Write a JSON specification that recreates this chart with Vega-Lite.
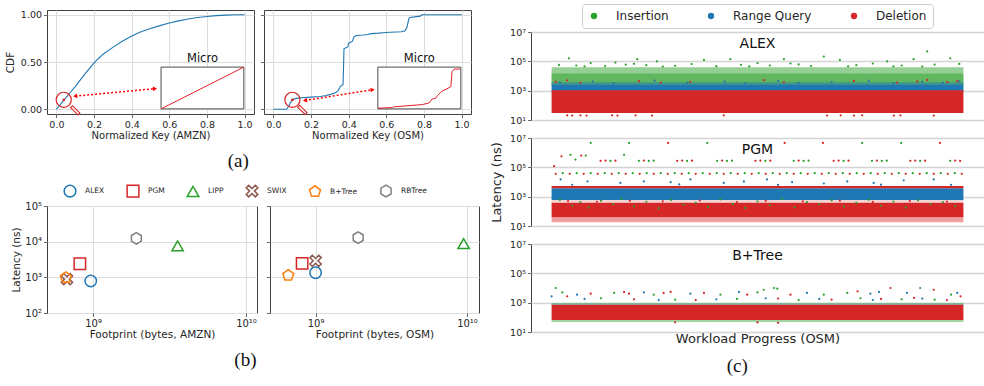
{
"$schema": "https://vega.github.io/schema/vega-lite/v6.json",
"background": "white",
"padding": {"left": 4, "top": 3, "right": 0, "bottom": 0},
"config": {
  "font": "DejaVu Sans",
  "view": {"stroke": "#404040", "strokeWidth": 1},
  "axis": {"domain": false, "tickColor": "#404040", "tickSize": 3.5, "tickWidth": 0.8, "labelColor": "#262626", "titleColor": "#262626", "gridColor": "#dddddd", "gridWidth": 1, "labelFontSize": 9.5, "titleFontSize": 10, "titleFontWeight": "normal", "labelPadding": 2, "titlePadding": 3},
  "legend": {"labelFont": "DejaVu Sans", "labelColor": "#262626", "layout": {"top": {"anchor": "middle"}, "bottom": {"anchor": "middle"}}},
  "title": {"font": "DejaVu Sans", "fontWeight": "normal", "color": "#111111"}
},
"datasets": {
  "amzn": [{"x":0,"y":0},{"x":0.025,"y":0.06},{"x":0.05,"y":0.12},{"x":0.075,"y":0.18},{"x":0.1,"y":0.24},{"x":0.125,"y":0.305},{"x":0.15,"y":0.37},{"x":0.175,"y":0.43},{"x":0.2,"y":0.49},{"x":0.225,"y":0.54},{"x":0.25,"y":0.585},{"x":0.3,"y":0.655},{"x":0.35,"y":0.72},{"x":0.4,"y":0.775},{"x":0.45,"y":0.82},{"x":0.5,"y":0.855},{"x":0.55,"y":0.885},{"x":0.6,"y":0.912},{"x":0.65,"y":0.935},{"x":0.7,"y":0.955},{"x":0.75,"y":0.97},{"x":0.8,"y":0.982},{"x":0.85,"y":0.99},{"x":0.9,"y":0.996},{"x":0.95,"y":0.999},{"x":1.0,"y":1.0}],
  "osm": [{"x":0,"y":0},{"x":0.07,"y":0.0},{"x":0.08,"y":0.03},{"x":0.09,"y":0.07},{"x":0.1,"y":0.1},{"x":0.12,"y":0.115},{"x":0.15,"y":0.122},{"x":0.2,"y":0.128},{"x":0.25,"y":0.135},{"x":0.28,"y":0.145},{"x":0.3,"y":0.155},{"x":0.33,"y":0.175},{"x":0.345,"y":0.2},{"x":0.355,"y":0.24},{"x":0.365,"y":0.255},{"x":0.37,"y":0.26},{"x":0.372,"y":0.4},{"x":0.375,"y":0.64},{"x":0.385,"y":0.65},{"x":0.395,"y":0.66},{"x":0.4,"y":0.7},{"x":0.41,"y":0.71},{"x":0.42,"y":0.72},{"x":0.425,"y":0.75},{"x":0.43,"y":0.77},{"x":0.44,"y":0.78},{"x":0.48,"y":0.785},{"x":0.5,"y":0.79},{"x":0.52,"y":0.8},{"x":0.56,"y":0.805},{"x":0.58,"y":0.81},{"x":0.62,"y":0.815},{"x":0.68,"y":0.82},{"x":0.7,"y":0.83},{"x":0.71,"y":0.87},{"x":0.72,"y":0.96},{"x":0.725,"y":0.97},{"x":0.76,"y":0.98},{"x":0.78,"y":0.985},{"x":0.79,"y":1.0},{"x":1.0,"y":1.0}],
  "microA": [{"x":0.556,"y":0.004},{"x":0.996,"y":0.446}],
  "microO": [{"x":0.555,"y":0.011},{"x":0.633,"y":0.018},{"x":0.637,"y":0.025},{"x":0.793,"y":0.05},{"x":0.828,"y":0.068},{"x":0.842,"y":0.107},{"x":0.863,"y":0.118},{"x":0.872,"y":0.146},{"x":0.89,"y":0.182},{"x":0.899,"y":0.196},{"x":0.917,"y":0.211},{"x":0.943,"y":0.239},{"x":0.949,"y":0.396},{"x":0.961,"y":0.425},{"x":0.991,"y":0.425}],
  "ops": [{"op":"Insertion"},{"op":"Range Query"},{"op":"Deletion"}],
  "foot": [
    {"dataset":"AMZN","index":"ALEX","footprint":966000000,"latency":790},
    {"dataset":"AMZN","index":"PGM","footprint":820000000,"latency":2400},
    {"dataset":"AMZN","index":"LIPP","footprint":3570000000,"latency":7600},
    {"dataset":"AMZN","index":"SWIX","footprint":675000000,"latency":890},
    {"dataset":"AMZN","index":"B+Tree","footprint":664000000,"latency":980},
    {"dataset":"AMZN","index":"RBTree","footprint":1920000000,"latency":12400},
    {"dataset":"OSM","index":"ALEX","footprint":1000000000,"latency":1350},
    {"dataset":"OSM","index":"PGM","footprint":815000000,"latency":2470},
    {"dataset":"OSM","index":"LIPP","footprint":9500000000,"latency":8800},
    {"dataset":"OSM","index":"SWIX","footprint":1000000000,"latency":2900},
    {"dataset":"OSM","index":"B+Tree","footprint":660000000,"latency":1140},
    {"dataset":"OSM","index":"RBTree","footprint":1910000000,"latency":13000}
  ],
  "bands": [
    {"panel":"ALEX","kind":"sparse","op":"Insertion","x0":0,"x1":1,"lo":2200,"hi":40000},
    {"panel":"ALEX","kind":"sparse","op":"Insertion","x0":0,"x1":1,"lo":2200,"hi":15000},
    {"panel":"ALEX","kind":"sparse","op":"Range Query","x0":0,"x1":1,"lo":2400,"hi":3800},
    {"panel":"ALEX","kind":"dense","op":"Range Query","x0":0,"x1":1,"lo":850,"hi":2500},
    {"panel":"ALEX","kind":"dense","op":"Deletion","x0":0,"x1":1,"lo":30,"hi":1050},
    {"panel":"PGM","kind":"sparse","op":"Deletion","x0":0,"x1":1,"lo":18,"hi":40},
    {"panel":"PGM","kind":"faint","op":"Deletion","x0":0,"x1":1,"lo":380,"hi":600},
    {"panel":"PGM","kind":"dense","op":"Deletion","x0":0,"x1":1,"lo":40,"hi":380},
    {"panel":"PGM","kind":"dense","op":"Range Query","x0":0,"x1":1,"lo":600,"hi":3800},
    {"panel":"PGM","kind":"dense","op":"Deletion","x0":0,"x1":1,"lo":3800,"hi":5300},
    {"panel":"B+Tree","kind":"sparse","op":"Insertion","x0":0,"x1":1,"lo":48,"hi":75},
    {"panel":"B+Tree","kind":"faint","op":"Range Query","x0":0,"x1":1,"lo":600,"hi":900},
    {"panel":"B+Tree","kind":"faint","op":"Insertion","x0":0,"x1":1,"lo":700,"hi":1000},
    {"panel":"B+Tree","kind":"dense","op":"Deletion","x0":0,"x1":1,"lo":65,"hi":720}
  ],
  "pts": [
    {"panel":"ALEX","op":"Insertion","p":0.018,"lat":57000},{"panel":"ALEX","op":"Insertion","p":0.042,"lat":160000},{"panel":"ALEX","op":"Insertion","p":0.06,"lat":52000},{"panel":"ALEX","op":"Insertion","p":0.095,"lat":76000},{"panel":"ALEX","op":"Insertion","p":0.13,"lat":48000},{"panel":"ALEX","op":"Insertion","p":0.155,"lat":83000},{"panel":"ALEX","op":"Insertion","p":0.18,"lat":60000},{"panel":"ALEX","op":"Insertion","p":0.208,"lat":140000},{"panel":"ALEX","op":"Insertion","p":0.23,"lat":55000},{"panel":"ALEX","op":"Insertion","p":0.256,"lat":98000},{"panel":"ALEX","op":"Insertion","p":0.3,"lat":50000},{"panel":"ALEX","op":"Insertion","p":0.34,"lat":65000},{"panel":"ALEX","op":"Insertion","p":0.37,"lat":125000},{"panel":"ALEX","op":"Insertion","p":0.4,"lat":47000},{"panel":"ALEX","op":"Insertion","p":0.434,"lat":140000},{"panel":"ALEX","op":"Insertion","p":0.46,"lat":58000},{"panel":"ALEX","op":"Insertion","p":0.5,"lat":76000},{"panel":"ALEX","op":"Insertion","p":0.53,"lat":52000},{"panel":"ALEX","op":"Insertion","p":0.564,"lat":140000},{"panel":"ALEX","op":"Insertion","p":0.6,"lat":62000},{"panel":"ALEX","op":"Insertion","p":0.63,"lat":48000},{"panel":"ALEX","op":"Insertion","p":0.661,"lat":210000},{"panel":"ALEX","op":"Insertion","p":0.7,"lat":125000},{"panel":"ALEX","op":"Insertion","p":0.74,"lat":55000},{"panel":"ALEX","op":"Insertion","p":0.78,"lat":70000},{"panel":"ALEX","op":"Insertion","p":0.815,"lat":98000},{"panel":"ALEX","op":"Insertion","p":0.85,"lat":52000},{"panel":"ALEX","op":"Insertion","p":0.879,"lat":140000},{"panel":"ALEX","op":"Insertion","p":0.912,"lat":470000},{"panel":"ALEX","op":"Insertion","p":0.93,"lat":60000},{"panel":"ALEX","op":"Insertion","p":0.968,"lat":160000},{"panel":"ALEX","op":"Insertion","p":0.99,"lat":66000},{"panel":"ALEX","op":"Insertion","p":0.08,"lat":45000},{"panel":"ALEX","op":"Insertion","p":0.27,"lat":44000},{"panel":"ALEX","op":"Insertion","p":0.48,"lat":45000},{"panel":"ALEX","op":"Insertion","p":0.72,"lat":46000},{"panel":"ALEX","op":"Insertion","p":0.9,"lat":44000},{"panel":"ALEX","op":"Insertion","p":0.2,"lat":68000},{"panel":"ALEX","op":"Insertion","p":0.58,"lat":72000},{"panel":"ALEX","op":"Insertion","p":0.83,"lat":45000},
    {"panel":"ALEX","op":"Range Query","p":0.02,"lat":3600},{"panel":"ALEX","op":"Range Query","p":0.1,"lat":4200},{"panel":"ALEX","op":"Range Query","p":0.15,"lat":3300},{"panel":"ALEX","op":"Range Query","p":0.25,"lat":4800},{"panel":"ALEX","op":"Range Query","p":0.33,"lat":3500},{"panel":"ALEX","op":"Range Query","p":0.42,"lat":4100},{"panel":"ALEX","op":"Range Query","p":0.47,"lat":3200},{"panel":"ALEX","op":"Range Query","p":0.55,"lat":4500},{"panel":"ALEX","op":"Range Query","p":0.6,"lat":3400},{"panel":"ALEX","op":"Range Query","p":0.68,"lat":3900},{"panel":"ALEX","op":"Range Query","p":0.77,"lat":4600},{"panel":"ALEX","op":"Range Query","p":0.83,"lat":3300},{"panel":"ALEX","op":"Range Query","p":0.9,"lat":4000},{"panel":"ALEX","op":"Range Query","p":0.95,"lat":3500},{"panel":"ALEX","op":"Range Query","p":0.99,"lat":4300},
    {"panel":"ALEX","op":"Deletion","p":0.01,"lat":4000},{"panel":"ALEX","op":"Deletion","p":0.038,"lat":5000},{"panel":"ALEX","op":"Deletion","p":0.07,"lat":3600},{"panel":"ALEX","op":"Deletion","p":0.212,"lat":4400},{"panel":"ALEX","op":"Deletion","p":0.265,"lat":3500},{"panel":"ALEX","op":"Deletion","p":0.337,"lat":4000},{"panel":"ALEX","op":"Deletion","p":0.515,"lat":5200},{"panel":"ALEX","op":"Deletion","p":0.564,"lat":3700},{"panel":"ALEX","op":"Deletion","p":0.734,"lat":4600},{"panel":"ALEX","op":"Deletion","p":0.839,"lat":3500},{"panel":"ALEX","op":"Deletion","p":0.888,"lat":4200},{"panel":"ALEX","op":"Deletion","p":0.912,"lat":5400},{"panel":"ALEX","op":"Deletion","p":0.961,"lat":3800},{"panel":"ALEX","op":"Deletion","p":0.985,"lat":4500},
    {"panel":"ALEX","op":"Deletion","p":0.038,"lat":21},{"panel":"ALEX","op":"Deletion","p":0.05,"lat":20},{"panel":"ALEX","op":"Deletion","p":0.07,"lat":21},{"panel":"ALEX","op":"Deletion","p":0.085,"lat":20},{"panel":"ALEX","op":"Deletion","p":0.147,"lat":21},{"panel":"ALEX","op":"Deletion","p":0.16,"lat":20},{"panel":"ALEX","op":"Deletion","p":0.204,"lat":21},{"panel":"ALEX","op":"Deletion","p":0.244,"lat":20},{"panel":"ALEX","op":"Deletion","p":0.418,"lat":21},{"panel":"ALEX","op":"Deletion","p":0.669,"lat":20},{"panel":"ALEX","op":"Deletion","p":0.702,"lat":21},{"panel":"ALEX","op":"Deletion","p":0.734,"lat":20},{"panel":"ALEX","op":"Deletion","p":0.754,"lat":21},{"panel":"ALEX","op":"Deletion","p":0.831,"lat":20},{"panel":"ALEX","op":"Deletion","p":0.847,"lat":21},{"panel":"ALEX","op":"Deletion","p":0.928,"lat":20},

    {"panel":"PGM","op":"Insertion","p":0.095,"lat":4600000},{"panel":"PGM","op":"Insertion","p":0.188,"lat":4600000},{"panel":"PGM","op":"Deletion","p":0.283,"lat":4600000},{"panel":"PGM","op":"Insertion","p":0.378,"lat":4600000},{"panel":"PGM","op":"Deletion","p":0.566,"lat":4600000},{"panel":"PGM","op":"Deletion","p":0.659,"lat":4600000},{"panel":"PGM","op":"Insertion","p":0.754,"lat":4600000},{"panel":"PGM","op":"Insertion","p":0.849,"lat":4600000},{"panel":"PGM","op":"Deletion","p":0.943,"lat":4600000},
    {"panel":"PGM","op":"Deletion","p":0.006,"lat":120000},{"panel":"PGM","op":"Deletion","p":0.024,"lat":560000},{"panel":"PGM","op":"Insertion","p":0.046,"lat":720000},{"panel":"PGM","op":"Insertion","p":0.058,"lat":340000},{"panel":"PGM","op":"Deletion","p":0.072,"lat":630000},{"panel":"PGM","op":"Insertion","p":0.083,"lat":630000},{"panel":"PGM","op":"Insertion","p":0.176,"lat":720000},
    {"panel":"PGM","op":"Deletion","p":0.119,"lat":280000},{"panel":"PGM","op":"Deletion","p":0.131,"lat":290000},{"panel":"PGM","op":"Insertion","p":0.143,"lat":275000},{"panel":"PGM","op":"Deletion","p":0.155,"lat":285000},
    {"panel":"PGM","op":"Insertion","p":0.212,"lat":280000},{"panel":"PGM","op":"Deletion","p":0.224,"lat":290000},{"panel":"PGM","op":"Insertion","p":0.236,"lat":275000},{"panel":"PGM","op":"Insertion","p":0.248,"lat":285000},
    {"panel":"PGM","op":"Deletion","p":0.305,"lat":280000},{"panel":"PGM","op":"Deletion","p":0.317,"lat":290000},{"panel":"PGM","op":"Insertion","p":0.329,"lat":275000},{"panel":"PGM","op":"Deletion","p":0.341,"lat":285000},
    {"panel":"PGM","op":"Insertion","p":0.402,"lat":280000},{"panel":"PGM","op":"Deletion","p":0.414,"lat":290000},{"panel":"PGM","op":"Insertion","p":0.426,"lat":275000},{"panel":"PGM","op":"Insertion","p":0.438,"lat":285000},
    {"panel":"PGM","op":"Deletion","p":0.495,"lat":280000},{"panel":"PGM","op":"Deletion","p":0.507,"lat":290000},{"panel":"PGM","op":"Insertion","p":0.519,"lat":275000},{"panel":"PGM","op":"Deletion","p":0.531,"lat":285000},
    {"panel":"PGM","op":"Insertion","p":0.588,"lat":280000},{"panel":"PGM","op":"Deletion","p":0.6,"lat":290000},{"panel":"PGM","op":"Insertion","p":0.612,"lat":275000},{"panel":"PGM","op":"Insertion","p":0.624,"lat":285000},
    {"panel":"PGM","op":"Deletion","p":0.685,"lat":280000},{"panel":"PGM","op":"Deletion","p":0.697,"lat":290000},{"panel":"PGM","op":"Insertion","p":0.709,"lat":275000},{"panel":"PGM","op":"Deletion","p":0.721,"lat":285000},
    {"panel":"PGM","op":"Insertion","p":0.778,"lat":280000},{"panel":"PGM","op":"Deletion","p":0.79,"lat":290000},{"panel":"PGM","op":"Insertion","p":0.802,"lat":275000},{"panel":"PGM","op":"Insertion","p":0.814,"lat":285000},
    {"panel":"PGM","op":"Deletion","p":0.871,"lat":280000},{"panel":"PGM","op":"Deletion","p":0.883,"lat":290000},{"panel":"PGM","op":"Insertion","p":0.895,"lat":275000},{"panel":"PGM","op":"Deletion","p":0.907,"lat":285000},
    {"panel":"PGM","op":"Insertion","p":0.968,"lat":280000},{"panel":"PGM","op":"Deletion","p":0.98,"lat":290000},{"panel":"PGM","op":"Deletion","p":0.992,"lat":275000},
    {"panel":"PGM","op":"Deletion","p":0.010,"lat":36000},{"panel":"PGM","op":"Insertion","p":0.027,"lat":40000},{"panel":"PGM","op":"Deletion","p":0.044,"lat":36000},{"panel":"PGM","op":"Insertion","p":0.061,"lat":40000},{"panel":"PGM","op":"Deletion","p":0.078,"lat":36000},{"panel":"PGM","op":"Insertion","p":0.095,"lat":40000},{"panel":"PGM","op":"Deletion","p":0.112,"lat":36000},{"panel":"PGM","op":"Insertion","p":0.129,"lat":40000},{"panel":"PGM","op":"Deletion","p":0.146,"lat":36000},{"panel":"PGM","op":"Insertion","p":0.163,"lat":40000},{"panel":"PGM","op":"Deletion","p":0.180,"lat":36000},{"panel":"PGM","op":"Insertion","p":0.197,"lat":40000},{"panel":"PGM","op":"Deletion","p":0.214,"lat":36000},{"panel":"PGM","op":"Insertion","p":0.231,"lat":40000},{"panel":"PGM","op":"Deletion","p":0.248,"lat":36000},{"panel":"PGM","op":"Insertion","p":0.265,"lat":40000},{"panel":"PGM","op":"Deletion","p":0.282,"lat":36000},{"panel":"PGM","op":"Insertion","p":0.299,"lat":40000},{"panel":"PGM","op":"Deletion","p":0.316,"lat":36000},{"panel":"PGM","op":"Insertion","p":0.333,"lat":40000},{"panel":"PGM","op":"Deletion","p":0.350,"lat":36000},{"panel":"PGM","op":"Insertion","p":0.367,"lat":40000},{"panel":"PGM","op":"Deletion","p":0.384,"lat":36000},{"panel":"PGM","op":"Insertion","p":0.401,"lat":40000},{"panel":"PGM","op":"Deletion","p":0.418,"lat":36000},{"panel":"PGM","op":"Insertion","p":0.435,"lat":40000},{"panel":"PGM","op":"Deletion","p":0.452,"lat":36000},{"panel":"PGM","op":"Insertion","p":0.469,"lat":40000},{"panel":"PGM","op":"Deletion","p":0.486,"lat":36000},{"panel":"PGM","op":"Insertion","p":0.503,"lat":40000},{"panel":"PGM","op":"Deletion","p":0.520,"lat":36000},{"panel":"PGM","op":"Insertion","p":0.537,"lat":40000},{"panel":"PGM","op":"Deletion","p":0.554,"lat":36000},{"panel":"PGM","op":"Insertion","p":0.571,"lat":40000},{"panel":"PGM","op":"Deletion","p":0.588,"lat":36000},{"panel":"PGM","op":"Insertion","p":0.605,"lat":40000},{"panel":"PGM","op":"Deletion","p":0.622,"lat":36000},{"panel":"PGM","op":"Insertion","p":0.639,"lat":40000},{"panel":"PGM","op":"Deletion","p":0.656,"lat":36000},{"panel":"PGM","op":"Insertion","p":0.673,"lat":40000},{"panel":"PGM","op":"Deletion","p":0.690,"lat":36000},{"panel":"PGM","op":"Insertion","p":0.707,"lat":40000},{"panel":"PGM","op":"Deletion","p":0.724,"lat":36000},{"panel":"PGM","op":"Insertion","p":0.741,"lat":40000},{"panel":"PGM","op":"Deletion","p":0.758,"lat":36000},{"panel":"PGM","op":"Insertion","p":0.775,"lat":40000},{"panel":"PGM","op":"Deletion","p":0.792,"lat":36000},{"panel":"PGM","op":"Insertion","p":0.809,"lat":40000},{"panel":"PGM","op":"Deletion","p":0.826,"lat":36000},{"panel":"PGM","op":"Insertion","p":0.843,"lat":40000},{"panel":"PGM","op":"Deletion","p":0.860,"lat":36000},{"panel":"PGM","op":"Insertion","p":0.877,"lat":40000},{"panel":"PGM","op":"Deletion","p":0.894,"lat":36000},{"panel":"PGM","op":"Insertion","p":0.911,"lat":40000},{"panel":"PGM","op":"Deletion","p":0.928,"lat":36000},{"panel":"PGM","op":"Insertion","p":0.945,"lat":40000},{"panel":"PGM","op":"Deletion","p":0.962,"lat":36000},{"panel":"PGM","op":"Insertion","p":0.979,"lat":40000},{"panel":"PGM","op":"Deletion","p":0.996,"lat":36000},
    {"panel":"PGM","op":"Range Query","p":0.022,"lat":15000},{"panel":"PGM","op":"Range Query","p":0.087,"lat":11000},{"panel":"PGM","op":"Range Query","p":0.167,"lat":8700},{"panel":"PGM","op":"Range Query","p":0.224,"lat":11000},{"panel":"PGM","op":"Range Query","p":0.289,"lat":9800},{"panel":"PGM","op":"Range Query","p":0.337,"lat":15000},{"panel":"PGM","op":"Range Query","p":0.418,"lat":8700},{"panel":"PGM","op":"Range Query","p":0.467,"lat":11000},{"panel":"PGM","op":"Range Query","p":0.523,"lat":15000},{"panel":"PGM","op":"Range Query","p":0.584,"lat":9800},{"panel":"PGM","op":"Range Query","p":0.661,"lat":7900},{"panel":"PGM","op":"Range Query","p":0.718,"lat":11000},{"panel":"PGM","op":"Range Query","p":0.782,"lat":8700},{"panel":"PGM","op":"Range Query","p":0.855,"lat":13000},{"panel":"PGM","op":"Range Query","p":0.928,"lat":15000},{"panel":"PGM","op":"Range Query","p":0.05,"lat":6500},{"panel":"PGM","op":"Range Query","p":0.31,"lat":6800},{"panel":"PGM","op":"Range Query","p":0.55,"lat":6300},{"panel":"PGM","op":"Range Query","p":0.8,"lat":6600},{"panel":"PGM","op":"Range Query","p":0.97,"lat":6400},
    {"panel":"PGM","op":"Insertion","p":0.02,"lat":600},{"panel":"PGM","op":"Insertion","p":0.05,"lat":250},{"panel":"PGM","op":"Insertion","p":0.07,"lat":420},{"panel":"PGM","op":"Insertion","p":0.09,"lat":180},{"panel":"PGM","op":"Insertion","p":0.12,"lat":520},{"panel":"PGM","op":"Insertion","p":0.15,"lat":300},{"panel":"PGM","op":"Insertion","p":0.17,"lat":700},{"panel":"PGM","op":"Insertion","p":0.2,"lat":220},{"panel":"PGM","op":"Insertion","p":0.23,"lat":450},{"panel":"PGM","op":"Insertion","p":0.26,"lat":160},{"panel":"PGM","op":"Insertion","p":0.29,"lat":600},{"panel":"PGM","op":"Insertion","p":0.32,"lat":280},{"panel":"PGM","op":"Insertion","p":0.35,"lat":380},{"panel":"PGM","op":"Insertion","p":0.38,"lat":200},{"panel":"PGM","op":"Insertion","p":0.41,"lat":650},{"panel":"PGM","op":"Insertion","p":0.44,"lat":320},{"panel":"PGM","op":"Insertion","p":0.47,"lat":170},{"panel":"PGM","op":"Insertion","p":0.5,"lat":480},{"panel":"PGM","op":"Insertion","p":0.53,"lat":260},{"panel":"PGM","op":"Insertion","p":0.56,"lat":700},{"panel":"PGM","op":"Insertion","p":0.59,"lat":190},{"panel":"PGM","op":"Insertion","p":0.62,"lat":420},{"panel":"PGM","op":"Insertion","p":0.65,"lat":300},{"panel":"PGM","op":"Insertion","p":0.68,"lat":550},{"panel":"PGM","op":"Insertion","p":0.71,"lat":210},{"panel":"PGM","op":"Insertion","p":0.74,"lat":380},{"panel":"PGM","op":"Insertion","p":0.77,"lat":620},{"panel":"PGM","op":"Insertion","p":0.8,"lat":240},{"panel":"PGM","op":"Insertion","p":0.83,"lat":460},{"panel":"PGM","op":"Insertion","p":0.86,"lat":180},{"panel":"PGM","op":"Insertion","p":0.89,"lat":560},{"panel":"PGM","op":"Insertion","p":0.92,"lat":300},{"panel":"PGM","op":"Insertion","p":0.95,"lat":420},{"panel":"PGM","op":"Insertion","p":0.98,"lat":230},
    {"panel":"PGM","op":"Deletion","p":0.04,"lat":500},{"panel":"PGM","op":"Deletion","p":0.11,"lat":450},{"panel":"PGM","op":"Deletion","p":0.19,"lat":520},{"panel":"PGM","op":"Deletion","p":0.27,"lat":480},{"panel":"PGM","op":"Deletion","p":0.36,"lat":540},{"panel":"PGM","op":"Deletion","p":0.45,"lat":430},{"panel":"PGM","op":"Deletion","p":0.52,"lat":510},{"panel":"PGM","op":"Deletion","p":0.61,"lat":470},{"panel":"PGM","op":"Deletion","p":0.7,"lat":530},{"panel":"PGM","op":"Deletion","p":0.78,"lat":440},{"panel":"PGM","op":"Deletion","p":0.87,"lat":500},{"panel":"PGM","op":"Deletion","p":0.96,"lat":460},

    {"panel":"B+Tree","op":"Insertion","p":0.01,"lat":10000},{"panel":"B+Tree","op":"Insertion","p":0.026,"lat":5000},{"panel":"B+Tree","op":"Insertion","p":0.152,"lat":4600},{"panel":"B+Tree","op":"Insertion","p":0.248,"lat":3500},{"panel":"B+Tree","op":"Insertion","p":0.41,"lat":3500},{"panel":"B+Tree","op":"Insertion","p":0.5,"lat":5000},{"panel":"B+Tree","op":"Insertion","p":0.515,"lat":7600},{"panel":"B+Tree","op":"Insertion","p":0.54,"lat":10000},{"panel":"B+Tree","op":"Insertion","p":0.548,"lat":9000},{"panel":"B+Tree","op":"Insertion","p":0.661,"lat":3500},{"panel":"B+Tree","op":"Insertion","p":0.718,"lat":4600},{"panel":"B+Tree","op":"Insertion","p":0.895,"lat":10000},{"panel":"B+Tree","op":"Insertion","p":0.97,"lat":3500},{"panel":"B+Tree","op":"Insertion","p":0.12,"lat":2000},{"panel":"B+Tree","op":"Insertion","p":0.3,"lat":1600},{"panel":"B+Tree","op":"Insertion","p":0.45,"lat":1800},{"panel":"B+Tree","op":"Insertion","p":0.6,"lat":1500},{"panel":"B+Tree","op":"Insertion","p":0.75,"lat":2000},{"panel":"B+Tree","op":"Insertion","p":0.85,"lat":1700},{"panel":"B+Tree","op":"Insertion","p":0.93,"lat":1600},
    {"panel":"B+Tree","op":"Deletion","p":0.038,"lat":2700},{"panel":"B+Tree","op":"Deletion","p":0.095,"lat":4100},{"panel":"B+Tree","op":"Deletion","p":0.176,"lat":5400},{"panel":"B+Tree","op":"Deletion","p":0.188,"lat":4100},{"panel":"B+Tree","op":"Deletion","p":0.272,"lat":4600},{"panel":"B+Tree","op":"Deletion","p":0.289,"lat":5400},{"panel":"B+Tree","op":"Deletion","p":0.37,"lat":4600},{"panel":"B+Tree","op":"Deletion","p":0.475,"lat":3500},{"panel":"B+Tree","op":"Deletion","p":0.58,"lat":3500},{"panel":"B+Tree","op":"Deletion","p":0.743,"lat":5900},{"panel":"B+Tree","op":"Deletion","p":0.823,"lat":10000},{"panel":"B+Tree","op":"Deletion","p":0.928,"lat":7600},{"panel":"B+Tree","op":"Deletion","p":0.993,"lat":2700},{"panel":"B+Tree","op":"Deletion","p":0.2,"lat":1700},{"panel":"B+Tree","op":"Deletion","p":0.35,"lat":1500},{"panel":"B+Tree","op":"Deletion","p":0.55,"lat":1900},{"panel":"B+Tree","op":"Deletion","p":0.68,"lat":1600},{"panel":"B+Tree","op":"Deletion","p":0.8,"lat":1800},{"panel":"B+Tree","op":"Deletion","p":0.88,"lat":2100},{"panel":"B+Tree","op":"Deletion","p":0.96,"lat":1500},{"panel":"B+Tree","op":"Deletion","p":0.5,"lat":45},{"panel":"B+Tree","op":"Deletion","p":0.55,"lat":42},{"panel":"B+Tree","op":"Deletion","p":0.3,"lat":46},
    {"panel":"B+Tree","op":"Range Query","p":0.0,"lat":2700},{"panel":"B+Tree","op":"Range Query","p":0.062,"lat":3500},{"panel":"B+Tree","op":"Range Query","p":0.224,"lat":5000},{"panel":"B+Tree","op":"Range Query","p":0.337,"lat":4100},{"panel":"B+Tree","op":"Range Query","p":0.455,"lat":5400},{"panel":"B+Tree","op":"Range Query","p":0.62,"lat":4600},{"panel":"B+Tree","op":"Range Query","p":0.774,"lat":4100},{"panel":"B+Tree","op":"Range Query","p":0.795,"lat":5400},{"panel":"B+Tree","op":"Range Query","p":0.863,"lat":4600},{"panel":"B+Tree","op":"Range Query","p":0.985,"lat":4600},{"panel":"B+Tree","op":"Range Query","p":0.08,"lat":1800},{"panel":"B+Tree","op":"Range Query","p":0.26,"lat":1500},{"panel":"B+Tree","op":"Range Query","p":0.4,"lat":1700},{"panel":"B+Tree","op":"Range Query","p":0.52,"lat":2000},{"panel":"B+Tree","op":"Range Query","p":0.65,"lat":1800},{"panel":"B+Tree","op":"Range Query","p":0.78,"lat":1500},{"panel":"B+Tree","op":"Range Query","p":0.9,"lat":1900}
  ]
},
"resolve": {"scale": {"color": "independent", "shape": "independent"}, "legend": {"color": "independent", "shape": "independent"}},
"columns": 2,
"align": "none",
"spacing": 10,
"concat": [
  {
    "spacing": 13,
    "resolve": {"scale": {"color": "independent", "shape": "independent"}, "legend": {"color": "independent", "shape": "independent"}},
    "vconcat": [
      {
        "title": {"text": "(a)", "orient": "bottom", "anchor": "middle", "font": "Liberation Serif", "fontSize": 19, "fontWeight": "normal", "offset": 11},
        "spacing": 4,
        "hconcat": [
          {
            "width": 207, "height": 104,
            "layer": [
              {"data": {"name": "amzn"}, "mark": {"type": "line", "color": "#1f77b4", "strokeWidth": 1.1},
               "encoding": {
                 "x": {"field": "x", "type": "quantitative", "scale": {"domain": [-0.05, 1.05], "nice": false, "zero": false}, "axis": {"values": [0, 0.2, 0.4, 0.6, 0.8, 1.0], "format": ".1f", "title": "Normalized Key (AMZN)", "titlePadding": 1, "grid": true}},
                 "y": {"field": "y", "type": "quantitative", "scale": {"domain": [-0.05, 1.05], "nice": false, "zero": false}, "axis": {"values": [0, 0.25, 0.5, 0.75, 1.0], "format": ".2f", "title": "CDF", "titleFontSize": 10.5, "titlePadding": 5, "grid": true}}}},
              {"data": {"values": [{}]}, "mark": {"type": "rect", "fill": "white", "stroke": "#4a4a4a", "strokeWidth": 1},
               "encoding": {"x": {"datum": 0.556, "type": "quantitative"}, "x2": {"datum": 0.996}, "y": {"datum": 0.004, "type": "quantitative"}, "y2": {"datum": 0.446}}},
              {"data": {"name": "microA"}, "mark": {"type": "line", "color": "#e0202a", "strokeWidth": 1},
               "encoding": {"x": {"field": "x", "type": "quantitative"}, "y": {"field": "y", "type": "quantitative"}}},
              {"data": {"values": [{}]}, "mark": {"type": "text", "fontSize": 11.5, "color": "#111111", "baseline": "middle"},
               "encoding": {"x": {"datum": 0.776, "type": "quantitative"}, "y": {"datum": 0.53, "type": "quantitative"}, "text": {"value": "Micro"}}},
              {"data": {"values": [{}]}, "mark": {"type": "rule", "color": "red", "strokeWidth": 1.5, "strokeDash": [2, 2]},
               "encoding": {"x": {"datum": 0.1, "type": "quantitative"}, "y": {"datum": 0.139, "type": "quantitative"}, "x2": {"datum": 0.524}, "y2": {"datum": 0.218}}},
              {"data": {"values": [{}]}, "mark": {"type": "point", "shape": "triangle-left", "filled": true, "color": "red", "size": 22, "angle": -5, "opacity": 1},
               "encoding": {"x": {"datum": 0.1, "type": "quantitative"}, "y": {"datum": 0.139, "type": "quantitative"}}},
              {"data": {"values": [{}]}, "mark": {"type": "point", "shape": "triangle-right", "filled": true, "color": "red", "size": 22, "angle": -5, "opacity": 1},
               "encoding": {"x": {"datum": 0.524, "type": "quantitative"}, "y": {"datum": 0.218, "type": "quantitative"}}},
              {"data": {"values": [{}]}, "mark": {"type": "point", "shape": "circle", "filled": false, "color": "#d62728", "strokeWidth": 1.2, "size": 230, "opacity": 1},
               "encoding": {"x": {"datum": 0.039, "type": "quantitative"}, "y": {"datum": 0.1, "type": "quantitative"}}},
              {"data": {"values": [{}]}, "mark": {"type": "point", "shape": "circle", "filled": true, "color": "#d62728", "size": 8, "opacity": 1},
               "encoding": {"x": {"datum": 0.039, "type": "quantitative"}, "y": {"datum": 0.1, "type": "quantitative"}}},
              {"data": {"values": [{}]}, "mark": {"type": "point", "shape": "M-0.25,-1L0.25,-1L0.25,1L-0.25,1Z", "angle": -45, "filled": true, "fill": "white", "stroke": "#d62728", "strokeWidth": 1.1, "size": 110, "opacity": 1},
               "encoding": {"x": {"datum": 0.1, "type": "quantitative"}, "y": {"datum": -0.011, "type": "quantitative"}}}
            ]
          },
          {
            "width": 207, "height": 104,
            "layer": [
              {"data": {"name": "osm"}, "mark": {"type": "line", "color": "#1f77b4", "strokeWidth": 1.1},
               "encoding": {
                 "x": {"field": "x", "type": "quantitative", "scale": {"domain": [-0.05, 1.05], "nice": false, "zero": false}, "axis": {"values": [0, 0.2, 0.4, 0.6, 0.8, 1.0], "format": ".1f", "title": "Normalized Key (OSM)", "titlePadding": 1, "grid": true}},
                 "y": {"field": "y", "type": "quantitative", "scale": {"domain": [-0.05, 1.05], "nice": false, "zero": false}, "axis": {"values": [0, 0.25, 0.5, 0.75, 1.0], "labels": false, "title": null, "grid": true}}}},
              {"data": {"values": [{}]}, "mark": {"type": "rect", "fill": "white", "stroke": "#4a4a4a", "strokeWidth": 1},
               "encoding": {"x": {"datum": 0.555, "type": "quantitative"}, "x2": {"datum": 0.996}, "y": {"datum": 0.004, "type": "quantitative"}, "y2": {"datum": 0.446}}},
              {"data": {"name": "microO"}, "mark": {"type": "line", "color": "#e0202a", "strokeWidth": 1},
               "encoding": {"x": {"field": "x", "type": "quantitative"}, "y": {"field": "y", "type": "quantitative"}}},
              {"data": {"values": [{}]}, "mark": {"type": "text", "fontSize": 11.5, "color": "#111111", "baseline": "middle"},
               "encoding": {"x": {"datum": 0.775, "type": "quantitative"}, "y": {"datum": 0.53, "type": "quantitative"}, "text": {"value": "Micro"}}},
              {"data": {"values": [{}]}, "mark": {"type": "rule", "color": "red", "strokeWidth": 1.5, "strokeDash": [2, 2]},
               "encoding": {"x": {"datum": 0.168, "type": "quantitative"}, "y": {"datum": 0.093, "type": "quantitative"}, "x2": {"datum": 0.527}, "y2": {"datum": 0.207}}},
              {"data": {"values": [{}]}, "mark": {"type": "point", "shape": "triangle-left", "filled": true, "color": "red", "size": 22, "angle": -9, "opacity": 1},
               "encoding": {"x": {"datum": 0.168, "type": "quantitative"}, "y": {"datum": 0.093, "type": "quantitative"}}},
              {"data": {"values": [{}]}, "mark": {"type": "point", "shape": "triangle-right", "filled": true, "color": "red", "size": 22, "angle": -9, "opacity": 1},
               "encoding": {"x": {"datum": 0.527, "type": "quantitative"}, "y": {"datum": 0.207, "type": "quantitative"}}},
              {"data": {"values": [{}]}, "mark": {"type": "point", "shape": "circle", "filled": false, "color": "#d62728", "strokeWidth": 1.2, "size": 230, "opacity": 1},
               "encoding": {"x": {"datum": 0.101, "type": "quantitative"}, "y": {"datum": 0.1, "type": "quantitative"}}},
              {"data": {"values": [{}]}, "mark": {"type": "point", "shape": "circle", "filled": true, "color": "#d62728", "size": 8, "opacity": 1},
               "encoding": {"x": {"datum": 0.101, "type": "quantitative"}, "y": {"datum": 0.1, "type": "quantitative"}}},
              {"data": {"values": [{}]}, "mark": {"type": "point", "shape": "M-0.25,-1L0.25,-1L0.25,1L-0.25,1Z", "angle": -45, "filled": true, "fill": "white", "stroke": "#d62728", "strokeWidth": 1.1, "size": 110, "opacity": 1},
               "encoding": {"x": {"datum": 0.154, "type": "quantitative"}, "y": {"datum": -0.007, "type": "quantitative"}}}
            ]
          }
        ]
      },
      {
        "title": {"text": "(b)", "orient": "bottom", "anchor": "middle", "font": "Liberation Serif", "fontSize": 19, "fontWeight": "normal", "offset": 10},
        "spacing": 7,
        "hconcat": [
          {
            "width": 210, "height": 107,
            "data": {"name": "foot"},
            "transform": [{"filter": "datum.dataset == 'AMZN'"}],
            "mark": {"type": "point", "filled": false, "strokeWidth": 1.5, "size": 130, "opacity": 1},
            "encoding": {
              "x": {"field": "footprint", "type": "quantitative", "scale": {"type": "log", "domain": [500000000, 11800000000], "nice": false}, "axis": {"values": [1000000000, 10000000000], "labelExpr": "'10' + ['⁰','¹','²','³','⁴','⁵','⁶','⁷','⁸','⁹','¹⁰'][round(log(datum.value)/LN10)]", "title": "Footprint (bytes, AMZN)", "titleFontSize": 10.5, "titlePadding": 1, "labelFontSize": 10, "grid": true}},
              "y": {"field": "latency", "type": "quantitative", "scale": {"type": "log", "domain": [100, 100000], "nice": false}, "axis": {"values": [100, 1000, 10000, 100000], "labelExpr": "'10' + ['⁰','¹','²','³','⁴','⁵','⁶','⁷','⁸','⁹','¹⁰'][round(log(datum.value)/LN10)]", "title": "Latency (ns)", "titleFontSize": 10.5, "labelFontSize": 10, "grid": true}},
              "color": {"field": "index", "type": "nominal", "scale": {"domain": ["ALEX", "PGM", "LIPP", "SWIX", "B+Tree", "RBTree"], "range": ["#1f77b4", "#d62728", "#2ca02c", "#8c564b", "#ff7f0e", "#7f7f7f"]},
                        "legend": {"orient": "top", "direction": "horizontal", "title": null, "labelFontSize": 7.5, "symbolSize": 137, "symbolStrokeWidth": 1.5, "columnPadding": 19, "labelOffset": 8, "offset": 0, "padding": 0}},
              "shape": {"field": "index", "type": "nominal", "scale": {"domain": ["ALEX", "PGM", "LIPP", "SWIX", "B+Tree", "RBTree"], "range": ["circle", "square", "triangle-up", "M-0.566,0.99L0,0.424L0.566,0.99L0.99,0.566L0.424,0L0.99,-0.566L0.566,-0.99L0,-0.424L-0.566,-0.99L-0.99,-0.566L-0.424,0L-0.99,0.566Z", "M0,-1L0.951,-0.309L0.588,0.809L-0.588,0.809L-0.951,-0.309Z", "M0,-1L0.866,-0.5L0.866,0.5L0,1L-0.866,0.5L-0.866,-0.5Z"]},
                        "legend": {"orient": "top", "direction": "horizontal", "title": null, "labelFontSize": 7.5, "symbolSize": 137, "symbolStrokeWidth": 1.5, "columnPadding": 19, "labelOffset": 8, "offset": 0, "padding": 0}}
            }
          },
          {
            "width": 209, "height": 107,
            "data": {"name": "foot"},
            "transform": [{"filter": "datum.dataset == 'OSM'"}],
            "mark": {"type": "point", "filled": false, "strokeWidth": 1.5, "size": 130, "opacity": 1},
            "encoding": {
              "x": {"field": "footprint", "type": "quantitative", "scale": {"type": "log", "domain": [500000000, 12000000000], "nice": false}, "axis": {"values": [1000000000, 10000000000], "labelExpr": "'10' + ['⁰','¹','²','³','⁴','⁵','⁶','⁷','⁸','⁹','¹⁰'][round(log(datum.value)/LN10)]", "title": "Footprint (bytes, OSM)", "titleFontSize": 10.5, "titlePadding": 1, "labelFontSize": 10, "grid": true}},
              "y": {"field": "latency", "type": "quantitative", "scale": {"type": "log", "domain": [100, 100000], "nice": false}, "axis": {"values": [100, 1000, 10000, 100000], "labels": false, "title": null, "grid": true}},
              "color": {"field": "index", "type": "nominal", "scale": {"domain": ["ALEX", "PGM", "LIPP", "SWIX", "B+Tree", "RBTree"], "range": ["#1f77b4", "#d62728", "#2ca02c", "#8c564b", "#ff7f0e", "#7f7f7f"]},
                        "legend": {"orient": "top", "direction": "horizontal", "title": null, "labelFontSize": 7.5, "symbolSize": 137, "symbolStrokeWidth": 1.5, "columnPadding": 19, "labelOffset": 8, "offset": 0, "padding": 0}},
              "shape": {"field": "index", "type": "nominal", "scale": {"domain": ["ALEX", "PGM", "LIPP", "SWIX", "B+Tree", "RBTree"], "range": ["circle", "square", "triangle-up", "M-0.566,0.99L0,0.424L0.566,0.99L0.99,0.566L0.424,0L0.99,-0.566L0.566,-0.99L0,-0.424L-0.566,-0.99L-0.99,-0.566L-0.424,0L-0.99,0.566Z", "M0,-1L0.951,-0.309L0.588,0.809L-0.588,0.809L-0.951,-0.309Z", "M0,-1L0.866,-0.5L0.866,0.5L0,1L-0.866,0.5L-0.866,-0.5Z"]},
                        "legend": {"orient": "top", "direction": "horizontal", "title": null, "labelFontSize": 7.5, "symbolSize": 137, "symbolStrokeWidth": 1.5, "columnPadding": 19, "labelOffset": 8, "offset": 0, "padding": 0}}
            }
          }
        ]
      }
    ]
  },
  {
    "title": {"text": "(c)", "orient": "bottom", "anchor": "middle", "font": "Liberation Serif", "fontSize": 19, "fontWeight": "normal", "offset": 11},
    "spacing": -3,
    "resolve": {"scale": {"color": "shared"}, "legend": {"color": "independent"}},
    "vconcat": [
      {
        "width": 453, "height": 1,
        "view": {"stroke": null},
        "data": {"name": "ops"},
        "mark": {"type": "circle", "size": 0, "opacity": 0},
        "encoding": {
          "color": {"field": "op", "type": "nominal", "scale": {"domain": ["Insertion", "Range Query", "Deletion"], "range": ["#2ca02c", "#1f77b4", "#d62728"]},
                    "legend": {"orient": "bottom", "direction": "horizontal", "title": null, "symbolType": "circle", "symbolSize": 40, "symbolOpacity": 1, "labelFontSize": 12, "labelOffset": 16, "columnPadding": 36, "strokeColor": "#cccccc", "padding": 6, "cornerRadius": 3, "offset": -7}}
        }
      },
      {
        "spacing": 7,
        "resolve": {"scale": {"color": "shared"}, "legend": {"color": "independent"}},
        "vconcat": [
          {
            "width": 453, "height": 88,
            "layer": [
              {"data": {"name": "bands"}, "transform": [{"filter": "datum.panel == 'ALEX' && datum.kind == 'sparse'"}], "mark": {"type": "rect", "opacity": 0.5},
               "encoding": {
                 "x": {"field": "x0", "type": "quantitative", "scale": {"domain": [-0.05, 1.05], "nice": false, "zero": false}, "axis": {"labels": false, "ticks": false, "grid": false, "title": null}},
                 "x2": {"field": "x1"},
                 "y": {"field": "lo", "type": "quantitative", "scale": {"type": "log", "domain": [10, 10000000], "nice": false}, "axis": {"values": [10, 1000, 100000, 10000000], "labelExpr": "'10' + ['⁰','¹','²','³','⁴','⁵','⁶','⁷','⁸','⁹'][round(log(datum.value)/LN10)]", "title": null, "grid": true, "gridColor": "#d4d4d4", "gridWidth": 1.3}},
                 "y2": {"field": "hi"},
                 "color": {"field": "op", "type": "nominal", "legend": null}}},
              {"data": {"name": "bands"}, "transform": [{"filter": "datum.panel == 'ALEX' && datum.kind == 'dense'"}], "mark": {"type": "rect", "opacity": 1},
               "encoding": {"x": {"field": "x0", "type": "quantitative"}, "x2": {"field": "x1"}, "y": {"field": "lo", "type": "quantitative"}, "y2": {"field": "hi"}, "color": {"field": "op", "type": "nominal", "legend": null}}},
              {"data": {"name": "pts"}, "transform": [{"filter": "datum.panel == 'ALEX'"}], "mark": {"type": "circle", "size": 5, "opacity": 1},
               "encoding": {"x": {"field": "p", "type": "quantitative"}, "y": {"field": "lat", "type": "quantitative"}, "color": {"field": "op", "type": "nominal", "legend": null}}},
              {"data": {"values": [{}]}, "mark": {"type": "text", "fontSize": 14, "color": "#111111", "baseline": "alphabetic"},
               "encoding": {"x": {"datum": 0.5, "type": "quantitative"}, "y": {"datum": 800000, "type": "quantitative"}, "text": {"value": "ALEX"}}}
            ]
          },
          {
            "width": 453, "height": 88,
            "layer": [
              {"data": {"name": "bands"}, "transform": [{"filter": "datum.panel == 'PGM' && datum.kind == 'sparse'"}], "mark": {"type": "rect", "opacity": 0.45},
               "encoding": {
                 "x": {"field": "x0", "type": "quantitative", "scale": {"domain": [-0.05, 1.05], "nice": false, "zero": false}, "axis": {"labels": false, "ticks": false, "grid": false, "title": null}},
                 "x2": {"field": "x1"},
                 "y": {"field": "lo", "type": "quantitative", "scale": {"type": "log", "domain": [10, 10000000], "nice": false}, "axis": {"values": [10, 1000, 100000, 10000000], "labelExpr": "'10' + ['⁰','¹','²','³','⁴','⁵','⁶','⁷','⁸','⁹'][round(log(datum.value)/LN10)]", "title": "Latency (ns)", "titleFontSize": 13, "titlePadding": 6, "grid": true, "gridColor": "#d4d4d4", "gridWidth": 1.3}},
                 "y2": {"field": "hi"},
                 "color": {"field": "op", "type": "nominal", "legend": null}}},
              {"data": {"name": "bands"}, "transform": [{"filter": "datum.panel == 'PGM' && datum.kind == 'faint'"}], "mark": {"type": "rect", "opacity": 0.2},
               "encoding": {"x": {"field": "x0", "type": "quantitative"}, "x2": {"field": "x1"}, "y": {"field": "lo", "type": "quantitative"}, "y2": {"field": "hi"}, "color": {"field": "op", "type": "nominal", "legend": null}}},
              {"data": {"name": "bands"}, "transform": [{"filter": "datum.panel == 'PGM' && datum.kind == 'dense'"}], "mark": {"type": "rect", "opacity": 1},
               "encoding": {"x": {"field": "x0", "type": "quantitative"}, "x2": {"field": "x1"}, "y": {"field": "lo", "type": "quantitative"}, "y2": {"field": "hi"}, "color": {"field": "op", "type": "nominal", "legend": null}}},
              {"data": {"name": "pts"}, "transform": [{"filter": "datum.panel == 'PGM'"}], "mark": {"type": "circle", "size": 5, "opacity": 1},
               "encoding": {"x": {"field": "p", "type": "quantitative"}, "y": {"field": "lat", "type": "quantitative"}, "color": {"field": "op", "type": "nominal", "legend": null}}},
              {"data": {"values": [{}]}, "mark": {"type": "text", "fontSize": 14, "color": "#111111", "baseline": "alphabetic"},
               "encoding": {"x": {"datum": 0.5, "type": "quantitative"}, "y": {"datum": 800000, "type": "quantitative"}, "text": {"value": "PGM"}}}
            ]
          },
          {
            "width": 453, "height": 88,
            "layer": [
              {"data": {"name": "bands"}, "transform": [{"filter": "datum.panel == 'B+Tree' && datum.kind == 'sparse'"}], "mark": {"type": "rect", "opacity": 0.45},
               "encoding": {
                 "x": {"field": "x0", "type": "quantitative", "scale": {"domain": [-0.05, 1.05], "nice": false, "zero": false}, "axis": {"labels": false, "ticks": false, "grid": false, "labelPadding": 0, "tickSize": 0, "title": "Workload Progress (OSM)", "titleFontSize": 13, "titlePadding": 0}},
                 "x2": {"field": "x1"},
                 "y": {"field": "lo", "type": "quantitative", "scale": {"type": "log", "domain": [10, 10000000], "nice": false}, "axis": {"values": [10, 1000, 100000, 10000000], "labelExpr": "'10' + ['⁰','¹','²','³','⁴','⁵','⁶','⁷','⁸','⁹'][round(log(datum.value)/LN10)]", "title": null, "grid": true, "gridColor": "#d4d4d4", "gridWidth": 1.3}},
                 "y2": {"field": "hi"},
                 "color": {"field": "op", "type": "nominal", "legend": null}}},
              {"data": {"name": "bands"}, "transform": [{"filter": "datum.panel == 'B+Tree' && datum.kind == 'faint'"}], "mark": {"type": "rect", "opacity": 0.3},
               "encoding": {"x": {"field": "x0", "type": "quantitative"}, "x2": {"field": "x1"}, "y": {"field": "lo", "type": "quantitative"}, "y2": {"field": "hi"}, "color": {"field": "op", "type": "nominal", "legend": null}}},
              {"data": {"name": "bands"}, "transform": [{"filter": "datum.panel == 'B+Tree' && datum.kind == 'dense'"}], "mark": {"type": "rect", "opacity": 1},
               "encoding": {"x": {"field": "x0", "type": "quantitative"}, "x2": {"field": "x1"}, "y": {"field": "lo", "type": "quantitative"}, "y2": {"field": "hi"}, "color": {"field": "op", "type": "nominal", "legend": null}}},
              {"data": {"name": "pts"}, "transform": [{"filter": "datum.panel == 'B+Tree'"}], "mark": {"type": "circle", "size": 5, "opacity": 1},
               "encoding": {"x": {"field": "p", "type": "quantitative"}, "y": {"field": "lat", "type": "quantitative"}, "color": {"field": "op", "type": "nominal", "legend": null}}},
              {"data": {"values": [{}]}, "mark": {"type": "text", "fontSize": 14, "color": "#111111", "baseline": "alphabetic"},
               "encoding": {"x": {"datum": 0.5, "type": "quantitative"}, "y": {"datum": 800000, "type": "quantitative"}, "text": {"value": "B+Tree"}}}
            ]
          }
        ]
      }
    ]
  }
]
}
